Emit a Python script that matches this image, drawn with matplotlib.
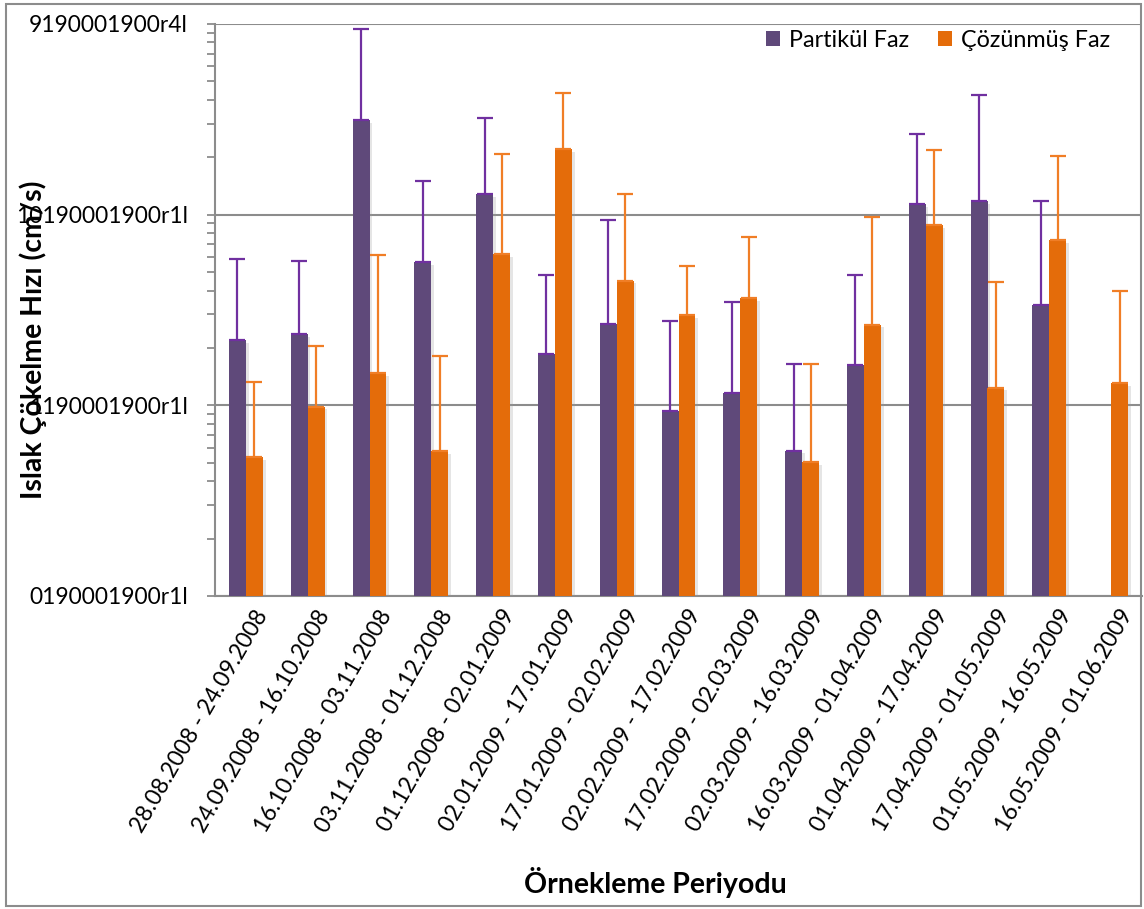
import numpy as np
import matplotlib
matplotlib.use("Agg")
import matplotlib.pyplot as plt
from matplotlib.patches import Rectangle
from matplotlib.transforms import ScaledTranslation
import matplotlib.patheffects as pe

plt.rcParams['font.family'] = ['Lato', 'DejaVu Sans']

periods = ["28.08.2008 - 24.09.2008", "24.09.2008 - 16.10.2008", "16.10.2008 - 03.11.2008",
           "03.11.2008 - 01.12.2008", "01.12.2008 - 02.01.2009", "02.01.2009 - 17.01.2009",
           "17.01.2009 - 02.02.2009", "02.02.2009 - 17.02.2009", "17.02.2009 - 02.03.2009",
           "02.03.2009 - 16.03.2009", "16.03.2009 - 01.04.2009", "01.04.2009 - 17.04.2009",
           "17.04.2009 - 01.05.2009", "01.05.2009 - 16.05.2009", "16.05.2009 - 01.06.2009"]

partikul = [0.0219, 0.0236, 0.314, 0.0562, 0.1285, 0.0185, 0.0266, 0.00935, 0.01164,
            0.00579, 0.01622, 0.1132, 0.1175, 0.0337, np.nan]
partikul_top = [0.0582, 0.0569, 0.944, 0.150, 0.323, 0.0482, 0.0940, 0.0277, 0.0350,
                0.01648, 0.0481, 0.266, 0.422, 0.118, np.nan]
cozunmus = [0.00535, 0.00986, 0.0148, 0.00577, 0.0622, 0.221, 0.0451, 0.0298, 0.0364,
            0.00502, 0.0265, 0.0883, 0.0124, 0.0735, 0.0131]
cozunmus_top = [0.01318, 0.0204, 0.0617, 0.0181, 0.209, 0.434, 0.1285, 0.0535, 0.0762,
                0.01655, 0.0977, 0.219, 0.0446, 0.204, 0.0396]

ytick_vals = [0.001, 0.01, 0.1, 1.0]
ytick_labels = ["0190001900r1l", "1190001900r1l", "10190001900r1l", "9190001900r4l"]

legend_labels = ["Partikül Faz", "Çözünmüş Faz"]
xlabel = "Örnekleme Periyodu"
ylabel = "Islak Çökelme Hızı (cm/s)"

c_p = "#5F497A"
c_o = "#E46C0A"
c_pe = "#7030A0"
c_oe = "#F07E26"
gray = "#8C8C8C"

W, H = 1144, 909
fig = plt.figure(figsize=(W / 100, H / 100), dpi=100)
ax = fig.add_axes([215 / W, 1 - 596 / H, 927 / W, 572 / H])

x = np.arange(len(periods))
w = 0.275
p = np.array(partikul)
o = np.array(cozunmus)
pe_err = np.array(partikul_top) - p
oe_err = np.array(cozunmus_top) - o

shadow = [pe.SimplePatchShadow(offset=(2, -2), shadow_rgbFace="#999999", alpha=0.25), pe.Normal()]
b1 = ax.bar(x - w / 2, np.nan_to_num(p, nan=0), w, color=c_p, label=legend_labels[0], zorder=3)
b2 = ax.bar(x + w / 2, o, w, color=c_o, label=legend_labels[1], zorder=3)
for b in list(b1) + list(b2):
    b.set_path_effects(shadow)

mask = ~np.isnan(p)
ax.errorbar((x - w / 2)[mask], p[mask], yerr=[np.zeros(mask.sum()), pe_err[mask]], fmt='none',
            ecolor=c_pe, elinewidth=1.6, capsize=6, capthick=1.6, zorder=4)
ax.errorbar(x + w / 2, o, yerr=[np.zeros(len(o)), oe_err], fmt='none',
            ecolor=c_oe, elinewidth=1.6, capsize=6, capthick=1.6, zorder=4)

ax.set_yscale('log')
ax.set_ylim(0.001, 1.0)
ax.set_xlim(-0.5, len(periods) - 0.5)
ax.set_yticks(ytick_vals)
ax.set_yticklabels(ytick_labels)
ax.yaxis.set_minor_locator(matplotlib.ticker.LogLocator(base=10, subs=np.arange(2, 10)))
ax.yaxis.set_minor_formatter(matplotlib.ticker.NullFormatter())
ax.tick_params(axis='y', which='both', direction='out', length=5.5, width=1.3, colors=gray,
               labelcolor='black', labelsize=16.4, pad=14)
ax.grid(axis='y', which='major', color=gray, linewidth=1.5, zorder=0)

ax.set_xticks(x)
ax.set_xticklabels(periods, rotation=60, ha='right', va='center', rotation_mode='anchor', fontsize=16.4)
ax.tick_params(axis='x', length=0, pad=11)
for lab in ax.get_xticklabels():
    lab.set_transform(lab.get_transform() + ScaledTranslation(0.17, 0, fig.dpi_scale_trans))

for s in ['top', 'right']:
    ax.spines[s].set_visible(False)
for s in ['left', 'bottom']:
    ax.spines[s].set_color(gray)
    ax.spines[s].set_linewidth(1.5)

leg = ax.legend(loc='upper right', bbox_to_anchor=(1110 / W, 1 - 30 / H), bbox_transform=fig.transFigure,
                ncol=2, frameon=False, fontsize=16.8, handlelength=0.6, handleheight=0.6,
                handletextpad=0.4, columnspacing=1.2, borderaxespad=0, borderpad=0)
for h in leg.legend_handles:
    h.set_path_effects([])

fig.text(655 / W, 1 - 893 / H, xlabel, ha='center', va='baseline', fontsize=20.5, fontweight='bold')
fig.text(33 / W, 1 - 340 / H, ylabel, ha='center', va='center', rotation=90, fontsize=20.5, fontweight='bold')

fig.add_artist(Rectangle((6 / W, 1 - 906 / H), 1135 / W, 902 / H, transform=fig.transFigure,
                         fill=False, edgecolor=gray, linewidth=1.5))

fig.savefig("out.png", dpi=100)
